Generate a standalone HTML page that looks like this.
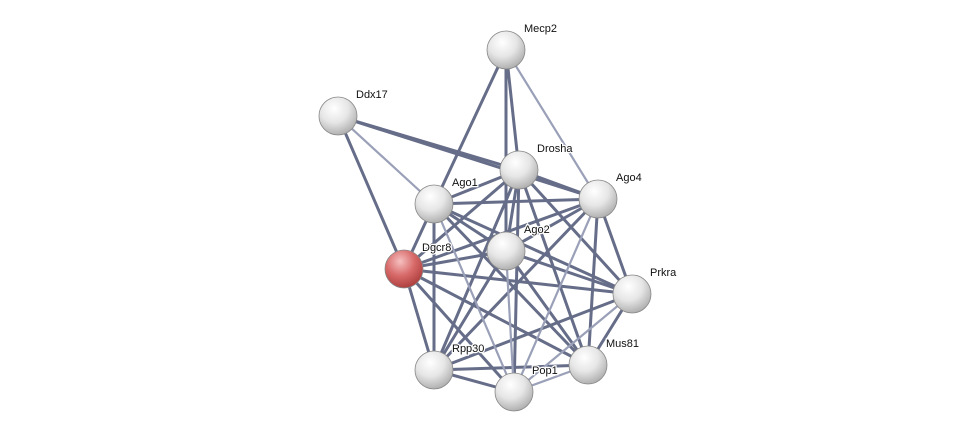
<!DOCTYPE html>
<html><head><meta charset="utf-8"><style>
html,body{margin:0;padding:0;background:#fff;}
svg{display:block;}
text{font-family:"Liberation Sans",sans-serif;font-size:11px;fill:#111;stroke:#fff;stroke-width:2.5px;paint-order:stroke;}
</style></head><body>
<svg width="976" height="437" viewBox="0 0 976 437" xmlns="http://www.w3.org/2000/svg">
<defs>
<radialGradient id="g" cx="0.4" cy="0.3" r="0.75">
<stop offset="0" stop-color="#ffffff"/><stop offset="0.5" stop-color="#e6e6e6"/><stop offset="1" stop-color="#a9a9a9"/>
</radialGradient>
<radialGradient id="r" cx="0.4" cy="0.3" r="0.75">
<stop offset="0" stop-color="#f6c0c0"/><stop offset="0.5" stop-color="#d86a6a"/><stop offset="1" stop-color="#a93a3a"/>
</radialGradient>
</defs>
<g stroke-linecap="round" fill="none">
<g stroke="#4c5474" stroke-width="3" opacity="0.85">
<line x1="506" y1="50" x2="519" y2="170"/>
<line x1="506" y1="50" x2="434" y2="204"/>
<line x1="506" y1="50" x2="506" y2="251"/>
<line x1="338" y1="116" x2="519" y2="170"/>
<line x1="338" y1="116" x2="404" y2="269"/>
<line x1="519" y1="170" x2="434" y2="204"/>
<line x1="519" y1="170" x2="598" y2="199"/>
<line x1="519" y1="170" x2="506" y2="251"/>
<line x1="519" y1="170" x2="404" y2="269"/>
<line x1="519" y1="170" x2="434" y2="370"/>
<line x1="519" y1="170" x2="514" y2="392"/>
<line x1="519" y1="170" x2="588" y2="365"/>
<line x1="519" y1="170" x2="632" y2="294"/>
<line x1="434" y1="204" x2="598" y2="199"/>
<line x1="434" y1="204" x2="506" y2="251"/>
<line x1="434" y1="204" x2="404" y2="269"/>
<line x1="434" y1="204" x2="434" y2="370"/>
<line x1="434" y1="204" x2="588" y2="365"/>
<line x1="434" y1="204" x2="632" y2="294"/>
<line x1="598" y1="199" x2="506" y2="251"/>
<line x1="598" y1="199" x2="404" y2="269"/>
<line x1="598" y1="199" x2="434" y2="370"/>
<line x1="598" y1="199" x2="588" y2="365"/>
<line x1="598" y1="199" x2="632" y2="294"/>
<line x1="506" y1="251" x2="404" y2="269"/>
<line x1="506" y1="251" x2="434" y2="370"/>
<line x1="506" y1="251" x2="588" y2="365"/>
<line x1="506" y1="251" x2="632" y2="294"/>
<line x1="404" y1="269" x2="434" y2="370"/>
<line x1="404" y1="269" x2="514" y2="392"/>
<line x1="404" y1="269" x2="588" y2="365"/>
<line x1="404" y1="269" x2="632" y2="294"/>
<line x1="434" y1="370" x2="514" y2="392"/>
<line x1="434" y1="370" x2="588" y2="365"/>
<line x1="434" y1="370" x2="632" y2="294"/>
<line x1="588" y1="365" x2="632" y2="294"/>
<line x1="338" y1="116" x2="598" y2="199"/>
</g>
<g stroke="#9aa0b8" stroke-width="2.2">
<line x1="506" y1="50" x2="598" y2="199"/>
<line x1="338" y1="116" x2="434" y2="204"/>
<line x1="434" y1="204" x2="514" y2="392"/>
<line x1="598" y1="199" x2="514" y2="392"/>
<line x1="506" y1="251" x2="514" y2="392"/>
<line x1="514" y1="392" x2="588" y2="365"/>
<line x1="514" y1="392" x2="632" y2="294"/>
</g>
</g>
<g stroke="#888" stroke-width="0.8">
<circle cx="506" cy="50" r="19" fill="url(#g)"/>
<circle cx="338" cy="116" r="19" fill="url(#g)"/>
<circle cx="519" cy="170" r="19" fill="url(#g)"/>
<circle cx="434" cy="204" r="19" fill="url(#g)"/>
<circle cx="598" cy="199" r="19" fill="url(#g)"/>
<circle cx="506" cy="251" r="19" fill="url(#g)"/>
<circle cx="404" cy="269" r="19" fill="url(#r)"/>
<circle cx="632" cy="294" r="19" fill="url(#g)"/>
<circle cx="588" cy="365" r="19" fill="url(#g)"/>
<circle cx="434" cy="370" r="19" fill="url(#g)"/>
<circle cx="514" cy="392" r="19" fill="url(#g)"/>
</g>
<text x="524" y="32">Mecp2</text>
<text x="356" y="98">Ddx17</text>
<text x="537" y="152">Drosha</text>
<text x="452" y="186">Ago1</text>
<text x="616" y="181">Ago4</text>
<text x="524" y="233">Ago2</text>
<text x="422" y="251">Dgcr8</text>
<text x="650" y="276">Prkra</text>
<text x="606" y="347">Mus81</text>
<text x="452" y="352">Rpp30</text>
<text x="532" y="374">Pop1</text>
</svg>
</body></html>
